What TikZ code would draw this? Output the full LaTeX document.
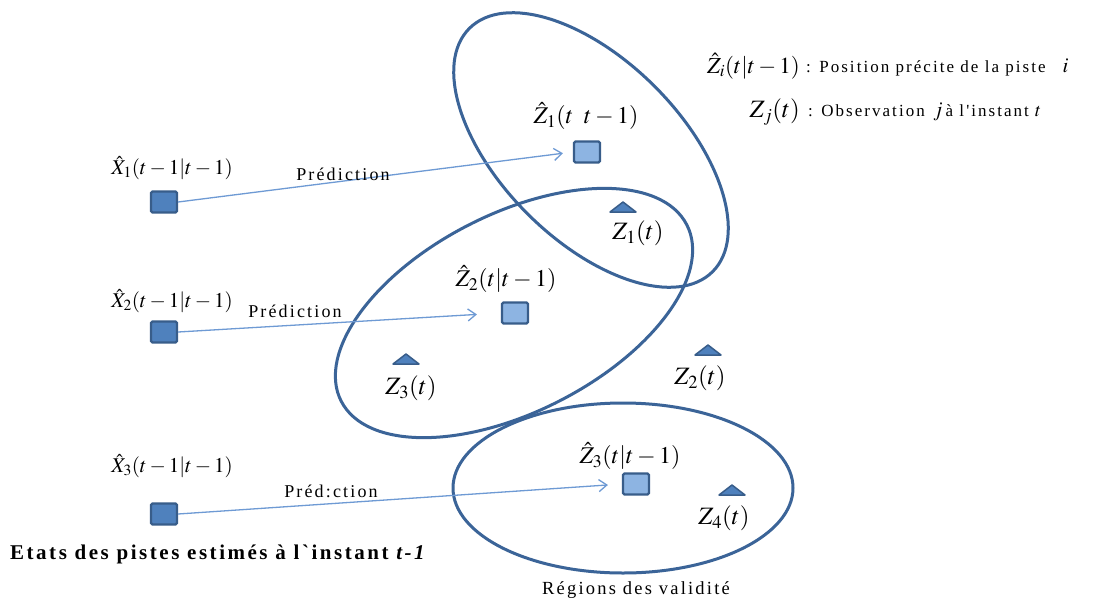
\documentclass[tikz,border=0pt]{standalone}
\usepackage{mathptmx}
\usepackage{fontspec}
\setmainfont{Liberation Serif}
\newfontfamily\spaced[LetterSpace=12]{Liberation Serif}
\usetikzlibrary{arrows.meta,calc}
\definecolor{edge}{HTML}{3B6498}
\definecolor{srcfill}{HTML}{4F81BD}
\definecolor{tgtfill}{HTML}{8DB4E2}
\definecolor{arrowc}{HTML}{6E9AD4}
\definecolor{boxline}{HTML}{385D8A}
\begin{document}
\begin{tikzpicture}[x=1pt,y=-1pt,
  region/.style={draw=edge, line width=3pt},
  srcbox/.style={draw=boxline, fill=srcfill, line width=2.2pt, rounded corners=1.5pt,
    minimum width=26pt, minimum height=21pt, inner sep=0pt},
  tgtbox/.style={srcbox, fill=tgtfill},
  pred/.style={draw=arrowc, line width=1.3pt, -{Straight Barb[length=8pt,width=12pt]}},
  predlbl/.style={inner sep=0pt, font=\spaced\fontsize{18}{20}\selectfont},
  mlbl/.style={inner sep=0pt, font=\fontsize{21}{24}\selectfont},
  zhlbl/.style={inner sep=0pt, font=\fontsize{24}{26}\selectfont},
  zlbl/.style={inner sep=0pt, font=\fontsize{25}{27}\selectfont},
  legtext/.style={inner sep=0pt, font=\spaced\fontsize{17}{20}\selectfont},
  tri/.style={draw=boxline, fill=srcfill, line width=1.5pt, line join=round}
]
\fill[white] (0,0) rectangle (1117,603);
\useasboundingbox (0,0) rectangle (1117,603);

% validation regions
\coordinate (e1) at (591,150);
\coordinate (e2) at (514,313);
\coordinate (e3) at (623,488);
\draw[region, rotate around={-45:(e1)}] (e1) ellipse [x radius=172, y radius=90];
\draw[region, rotate around={27:(e2)}] (e2) ellipse [x radius=194, y radius=99];
\draw[region] (e3) ellipse [x radius=170, y radius=85];

% track states
\node[srcbox] (x1) at (164,202) {};
\node[srcbox] (x2) at (164,332) {};
\node[srcbox] (x3) at (164,514) {};
\node[tgtbox] (z1) at (587,152) {};
\node[tgtbox] (z2) at (515,313) {};
\node[tgtbox] (z3) at (636,484) {};

% predictions
\draw[pred, shorten >=10pt] (x1.east) -- (z1.west);
\draw[pred, shorten >=24pt] (x2.east) -- (z2.west);
\draw[pred, shorten >=14pt] (x3.east) -- (z3.west);
\node[predlbl] (p1) at (343,174) {Prédiction};
\node[predlbl] (p2) at (295,311) {Prédiction};
\node[predlbl] (p3) at (331,491) {Préd:ction};

% observations
\coordinate (t1) at (623,207);
\coordinate (t2) at (708,350);
\coordinate (t3) at (406,359);
\coordinate (t4) at (732,490);
\foreach \t in {t1,t2,t3,t4}
  \draw[tri] (\t) ++(-13,5) -- ++(13,-10) -- ++(13,10) -- cycle;

% labels
\node[mlbl] (lx1) at (172,168) {$\hat{X}_1(t-1|t-1)$};
\node[mlbl] (lx2) at (172,301) {$\hat{X}_2(t-1|t-1)$};
\node[mlbl] (lx3) at (172,466) {$\hat{X}_3(t-1|t-1)$};
\node[zhlbl] (lzh1) at (586,116) {$\hat{Z}_1(t\;\;t-1)$};
\node[zhlbl] (lzh2) at (506,279) {$\hat{Z}_2(t|t-1)$};
\node[zhlbl] (lzh3) at (630,456) {$\hat{Z}_3(t|t-1)$};
\node[zlbl] (lz1) at (638,233) {$Z_1(t)$};
\node[zlbl] (lz2) at (700,378) {$Z_2(t)$};
\node[zlbl] (lz3) at (411,388) {$Z_3(t)$};
\node[zlbl] (lz4) at (724,518) {$Z_4(t)$};

% legend
\node[zhlbl, anchor=east, font=\fontsize{23}{25}\selectfont] (leg1m) at (800,66) {$\hat{Z}_i(t|t-1)$};
\node[legtext, anchor=west] (leg1t) at (806,67) {: Position précite de la piste\quad{\fontsize{21}{24}\selectfont$i$}};
\node[zlbl, anchor=east] (leg2m) at (800,112) {$Z_j(t)$};
\node[legtext, anchor=west] (leg2t) at (808,112) {: Observation\enspace{\fontsize{21}{24}\selectfont$j$}\,à l'instant {\fontsize{19}{24}\selectfont$t$}};

% captions
\node[anchor=west, inner sep=0pt, font=\spaced\bfseries\fontsize{21}{24}\selectfont] (cap) at (10,554)
  {Etats des pistes estimés à l`instant \textit{t-1}};
\node[inner sep=0pt, font=\spaced\fontsize{18.5}{22}\selectfont] (reg) at (636,590) {Régions des validité};
\end{tikzpicture}
\end{document}
